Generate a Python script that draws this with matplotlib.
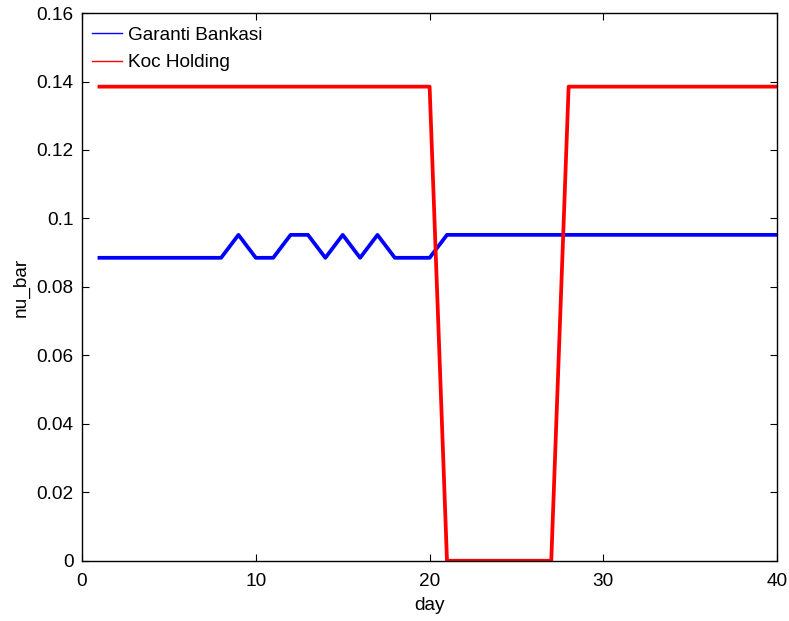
import numpy as np
import matplotlib
matplotlib.use("Agg")
import matplotlib.pyplot as plt
from matplotlib.lines import Line2D

plt.rcParams["font.family"] = ["Liberation Sans", "DejaVu Sans"]

days = np.arange(1, 41)
lo, hi = 0.0885, 0.0952
garanti = [lo] * 8 + [hi, lo, lo, hi, hi, lo, hi, lo, hi, lo, lo, lo] + [hi] * 20
koc = [0.1385] * 20 + [0.0] * 7 + [0.1385] * 13

fs = 13.7
fig = plt.figure(figsize=(7.89, 6.21), dpi=100)
ax = fig.add_axes([0.104, 0.097, 0.881, 0.882])
ax.plot(days, garanti, color="blue", lw=2.7)
ax.plot(days, koc, color="red", lw=2.7)

ax.set_xlim(0, 40)
ax.set_ylim(0, 0.16)
ax.set_xticks([0, 10, 20, 30, 40])
ax.set_yticks(np.arange(0, 0.161, 0.02))
ax.set_yticklabels(["0", "0.02", "0.04", "0.06", "0.08", "0.1", "0.12", "0.14", "0.16"])
ax.tick_params(direction="in", top=True, right=True, labelsize=fs, length=5)
ax.tick_params(axis="x", pad=9)
ax.tick_params(axis="y", pad=6)
for s in ax.spines.values():
    s.set_linewidth(1.0)
ax.set_xlabel("day", fontsize=fs, labelpad=5)
ax.set_ylabel("nu_bar", fontsize=fs, labelpad=5)

handles = [Line2D([], [], color="blue", lw=1), Line2D([], [], color="red", lw=1)]
ax.legend(handles, ["Garanti Bankasi", "Koc Holding"], loc="upper left",
          bbox_to_anchor=(-0.005, 1.0), frameon=False, fontsize=fs,
          handlelength=1.6, handletextpad=0.3, borderaxespad=0.3,
          labelspacing=0.55)

fig.savefig("out.png", dpi=100)
